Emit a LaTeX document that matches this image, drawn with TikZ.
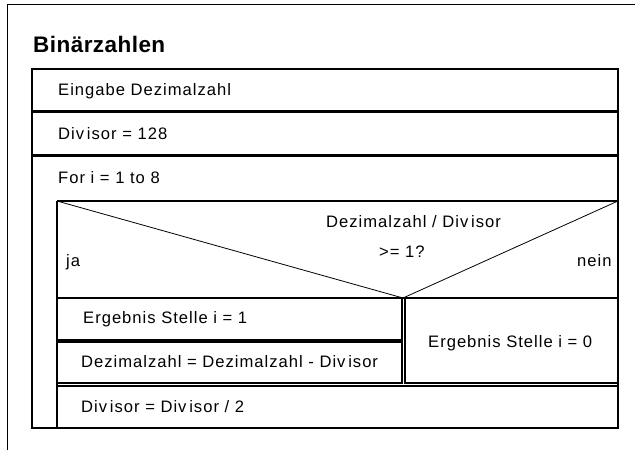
\documentclass[tikz,border=0pt]{standalone}
\usepackage{fontspec}
\setmainfont{Liberation Sans}[LetterSpace=6]
\newfontfamily\titlefont{Liberation Sans}[LetterSpace=2]
\begin{document}
\begin{tikzpicture}[x=1pt,y=-1pt,
  box/.style={draw=black,line width=1.4pt},
  thin/.style={draw=black,line width=0.8pt},
  txt/.style={anchor=base west,inner sep=0pt,font=\fontsize{16.6}{19}\selectfont},
  ttl/.style={anchor=base west,inner sep=0pt,font=\titlefont\bfseries\fontsize{22.5}{26}\selectfont}]
\useasboundingbox (0,0) rectangle (635,450);
% outer frame (partly visible)
\draw[line width=1pt] (7,450) -- (7,4) -- (635,4);
\node[ttl] (title) at (33,52) {Binärzahlen};
% sequence
\draw[box] (32,69) rectangle (618,111);
\node[txt] (t1) at (58,95) {Eingabe Dezimalzahl};
\draw[box] (32,112) rectangle (618,155);
\draw[line width=3pt] (32,155) -- (618,155);
\node[txt] (t2) at (58,139) {Div\,isor = 128};
% loop
\draw[box] (32,155) -- (618,155) -- (618,428) -- (32,428) -- cycle;
\node[txt] (t3) at (58,183) {For i = 1 to 8};
\draw[box] (57,201) -- (618,201);
\draw[box] (57,201) -- (57,428);
% decision
\coordinate (apex) at (403,298);
\draw[thin] (57,201) -- (apex) -- (618,201);
\draw[box] (57,298) -- (618,298);
\node[txt] (q1) at (326,227) {Dezimalzahl / Div\,isor};
\node[txt] (q2) at (379,257) {>= 1?};
\node[txt] (ja) at (66,266) {ja};
\node[txt] (nein) at (577,266) {nein};
% yes branch
\draw[box] (57,298) rectangle (402,340);
\node[txt] (y1) at (83,323) {Ergebnis Stelle i = 1};
\draw[box] (57,342) rectangle (402,383);
\node[txt] (y2) at (81,367) {Dezimalzahl = Dezimalzahl - Div\,isor};
% no branch
\draw[box] (405,298) rectangle (618,383);
\node[txt] (n1) at (428,347) {Ergebnis Stelle i = 0};
% last statement
\draw[box] (57,386) rectangle (618,428);
\node[txt] (l1) at (81,412) {Div\,isor = Div\,isor / 2};
\end{tikzpicture}
\end{document}
